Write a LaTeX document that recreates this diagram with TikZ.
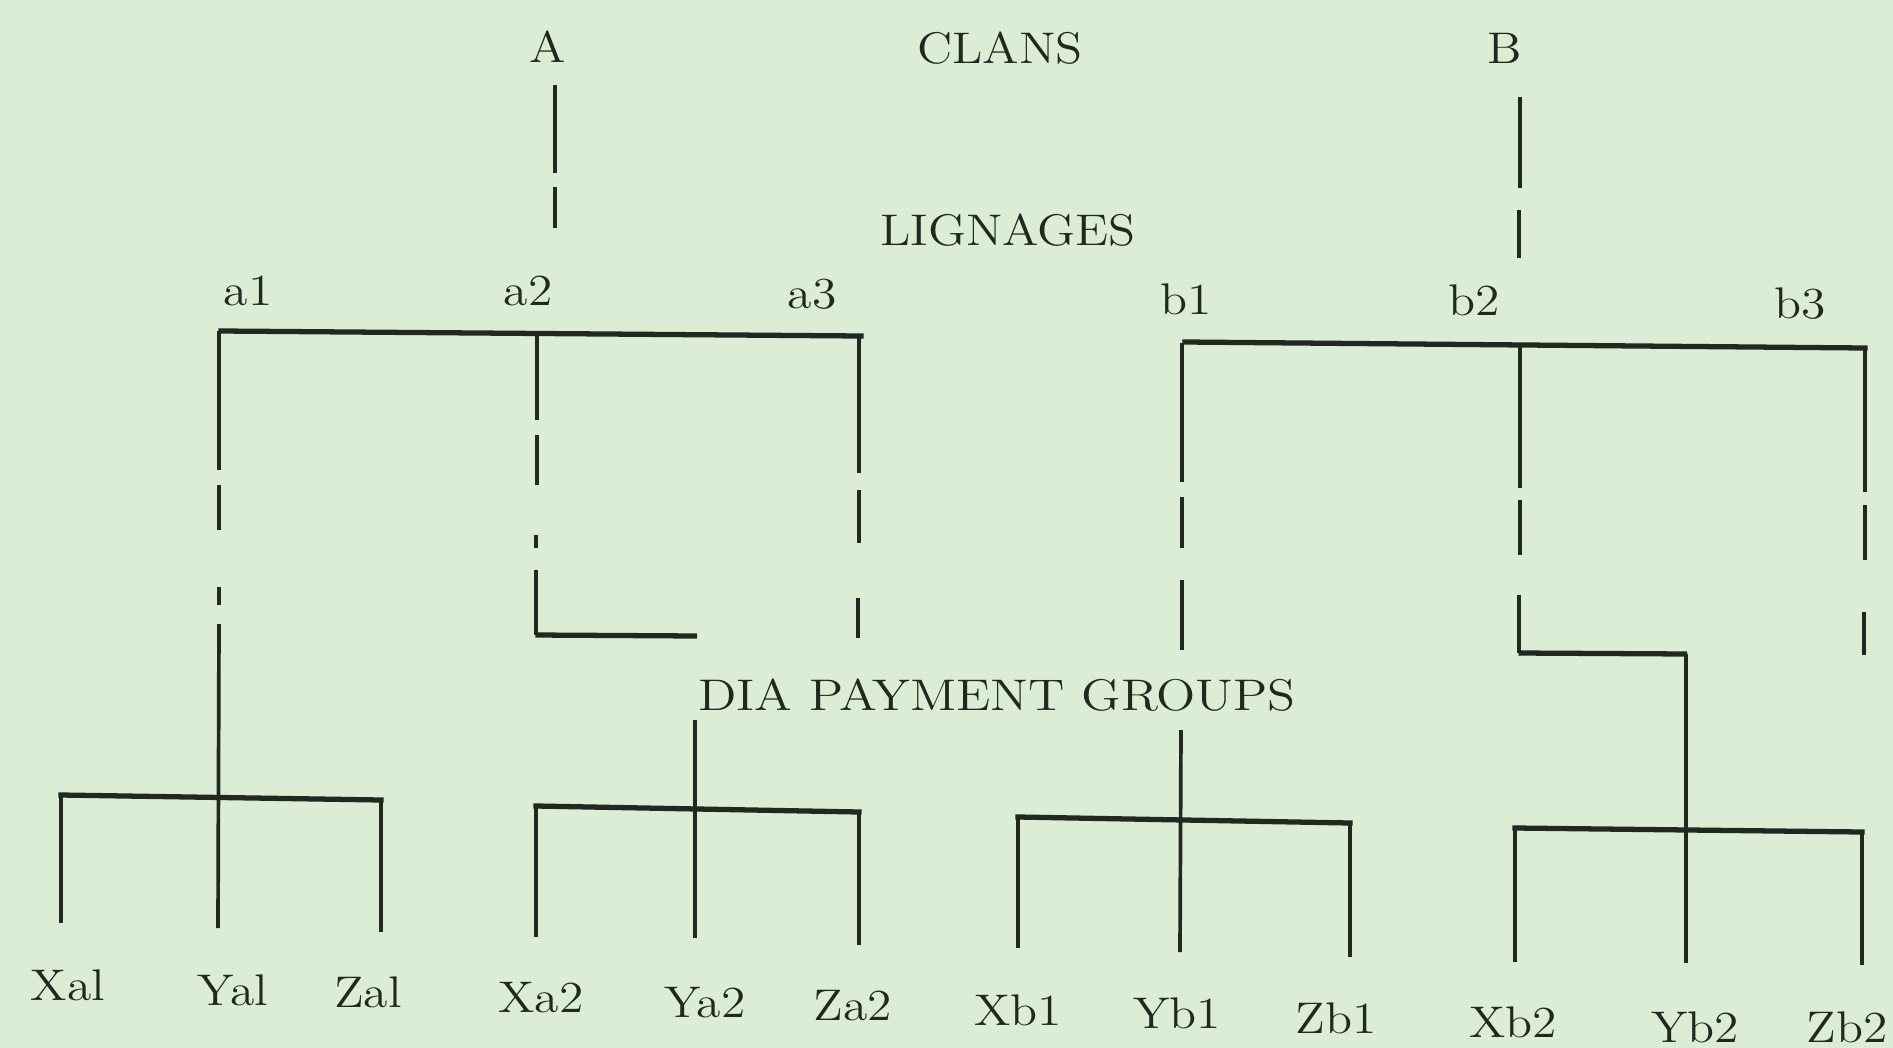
\documentclass[tikz,border=0pt]{standalone}
\usepackage{graphicx}
\definecolor{paper}{RGB}{219,237,212}
\definecolor{ink}{RGB}{32,40,32}
\newcommand{\wide}[1]{\scalebox{1.12}[1]{#1}}
\newcommand{\wider}[1]{\scalebox{1.16}[1]{#1}}
\begin{document}
\begin{tikzpicture}[x=0.01cm,y=-0.01cm,
  lbl/.style={anchor=base, inner sep=0pt, text=ink, font=\fontsize{12.6}{15}\selectfont},
  vline/.style={draw=ink, line width=1.05pt},
  hline/.style={draw=ink, line width=1.5pt, line cap=rect}]
% sheet
\fill[paper] (0,0) rectangle (1893,1048);
\useasboundingbox (0,0) rectangle (1893,1048);

% level headings
\node[lbl] (A) at (548,62) {\wide{A}};
\node[lbl] (clans) at (1000,63) {\wide{CLANS}};
\node[lbl] (B) at (1505,63) {\wide{B}};
\node[lbl] (lignages) at (1008,245) {\wide{LIGNAGES}};
\node[lbl] (dia) at (997,710) {\wider{DIA PAYMENT GROUPS}};

% lineage labels
\node[lbl] (a1) at (248,305) {\wide{a1}};
\node[lbl] (a2) at (528,305) {\wide{a2}};
\node[lbl] (a3) at (812,308) {\wide{a3}};
\node[lbl] (b1) at (1186,314) {\wide{b1}};
\node[lbl] (b2) at (1474,315) {\wide{b2}};
\node[lbl] (b3) at (1800,318) {\wide{b3}};

% dia-paying groups
\node[lbl] (xa1) at (68,1000) {\wide{Xal}};
\node[lbl] (ya1) at (233,1005) {\wide{Yal}};
\node[lbl] (za1) at (368,1007) {\wide{Zal}};
\node[lbl] (xa2) at (541,1012) {\wide{Xa2}};
\node[lbl] (ya2) at (705,1017) {\wide{Ya2}};
\node[lbl] (za2) at (853,1020) {\wide{Za2}};
\node[lbl] (xb1) at (1018,1025) {\wide{Xb1}};
\node[lbl] (yb1) at (1177,1028) {\wide{Yb1}};
\node[lbl] (zb1) at (1336,1033) {\wide{Zb1}};
\node[lbl] (xb2) at (1513,1037) {\wide{Xb2}};
\node[lbl] (yb2) at (1695,1042) {\wide{Yb2}};
\node[lbl] (zb2) at (1847,1042) {\wide{Zb2}};

% clan stems (broken)
\draw[vline] (555,85) -- (555,173);
\draw[vline] (555,187) -- (555,228);
\draw[vline] (1520,97) -- (1520,188);
\draw[vline] (1519,210) -- (1519,258);

% clan A: lineage bar
\draw[hline] (221,331) -- (861,336);
% a1 stem, broken, down to its group
\draw[vline] (219,331) -- (219,470);
\draw[vline] (219,485) -- (219,530);
\draw[vline] (219,587) -- (219,605);
\draw[vline] (219,624) -- (218,928);
% a2 stem, broken, then offset to the second group
\draw[vline] (537,333) -- (537,420);
\draw[vline] (537,435) -- (537,485);
\draw[vline] (536,535) -- (536,548);
\draw[vline] (536,570) -- (536,635);
\draw[hline, line cap=butt] (535.5,635) -- (697,636);
% a3 stem, broken
\draw[vline] (859,336) -- (859,473);
\draw[vline] (859,490) -- (859,543);
\draw[vline] (858,598) -- (858,638);

% group a1
\draw[hline] (61,795) -- (381,800);
\draw[vline] (61,795) -- (61,923);
\draw[vline] (381,800) -- (381,932);
% group a2
\draw[vline] (695,720) -- (695,938);
\draw[hline] (536,806) -- (859,812);
\draw[vline] (536,806) -- (536,937);
\draw[vline] (859,812) -- (859,945);

% clan B: lineage bar
\draw[hline] (1185,342) -- (1865,348);
% b1 stem, broken, resumes under the heading
\draw[vline] (1182,343) -- (1182,482);
\draw[vline] (1182,497) -- (1182,548);
\draw[vline] (1182,580) -- (1182,650);
\draw[vline] (1181,730) -- (1180,952);
% b2 stem, broken, then offset to the fourth group
\draw[vline] (1520,346) -- (1520,488);
\draw[vline] (1520,500) -- (1520,555);
\draw[vline] (1519,595) -- (1519,653);
\draw[hline, line cap=butt] (1518.5,653) -- (1687,654);
\draw[vline] (1686,654) -- (1686,963);
% b3 stem, broken
\draw[vline] (1865,348) -- (1865,492);
\draw[vline] (1865,505) -- (1865,560);
\draw[vline] (1864,612) -- (1864,655);

% group b1
\draw[hline] (1018,817) -- (1350,823);
\draw[vline] (1018,817) -- (1018,948);
\draw[vline] (1350,823) -- (1350,957);
% group b2
\draw[hline] (1515,828) -- (1862,832);
\draw[vline] (1515,828) -- (1515,962);
\draw[vline] (1862,832) -- (1862,965);
\end{tikzpicture}
\end{document}
